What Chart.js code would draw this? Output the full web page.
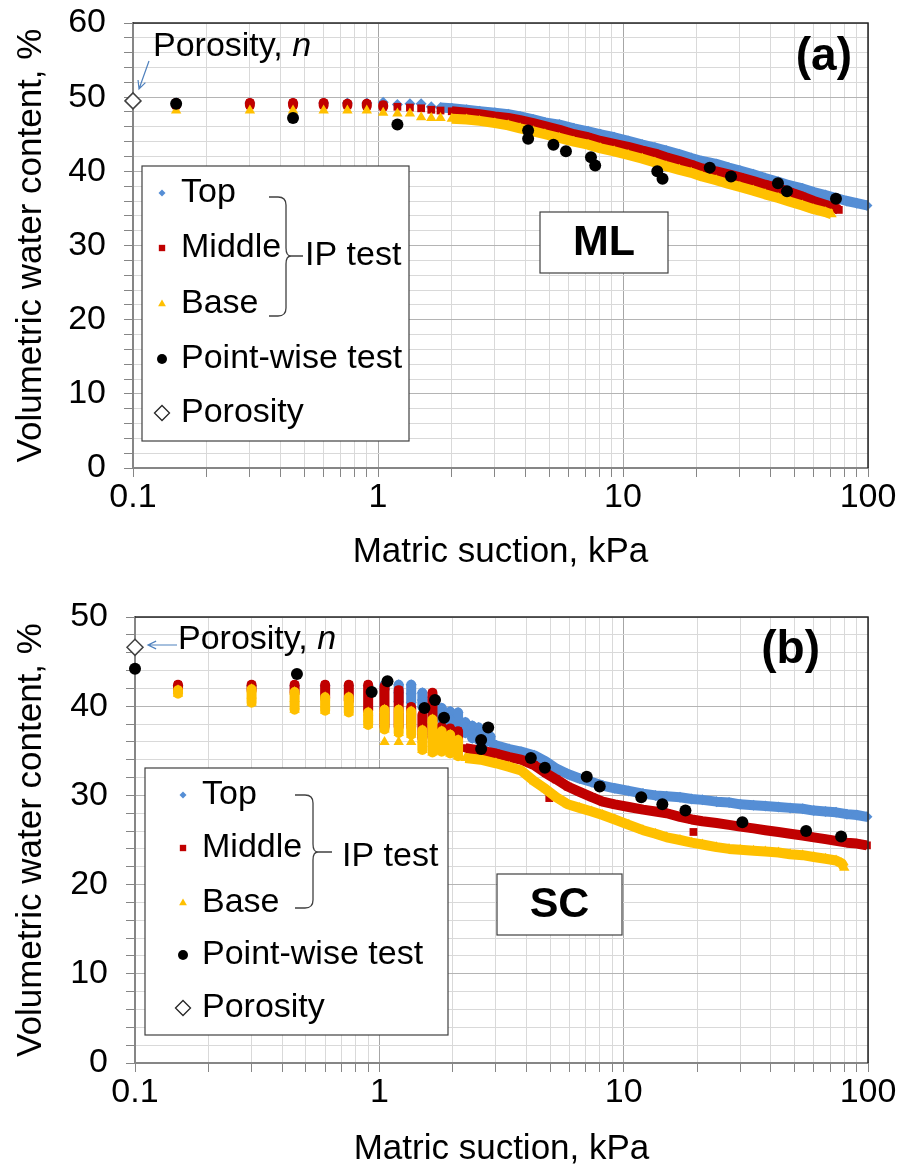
<!DOCTYPE html>
<html>
<head>
<meta charset="utf-8">
<script src="https://cdn.jsdelivr.net/npm/chart.js@4.4.0/dist/chart.umd.min.js"></script>
<style>
  html, body { margin: 0; padding: 0; background: #fff; }
  #wrap { position: relative; width: 900px; height: 1171px; }
  .panel { position: absolute; left: 0; width: 900px; }
</style>
</head>
<body>
<div id="wrap">
  <div class="panel" style="top:0;height:585px"><canvas id="chartA"></canvas></div>
  <div class="panel" style="top:585px;height:586px"><canvas id="chartB"></canvas></div>
</div>
<script>
// ---- axis ticks ----
const xTickValues = [0.1,0.2,0.3,0.4,0.5,0.6,0.7,0.8,0.9,1,2,3,4,5,6,7,8,9,10,20,30,40,50,60,70,80,90,100];
const xTickLabels = [0.1, 1, 10, 100];
const legendLabels = ['Top', 'Middle', 'Base', 'Point-wise test', 'Porosity'];

// ---- (a) ML ----
const mlTopX = [0.15,0.3,0.45,0.6,0.75,0.9,1.05,1.2,1.35,1.5,1.65,
  1.8,2.0,2.3,2.6,3.0,3.4,3.8,4.3,4.8,5.5,6.3,7.2,8.1,9.2,10.5,12,13.5,15,17,19,21,24,27,30,34,38,43,48,54,60,67,74,82,90,99];
const mlTopY = [49.2,49.2,49.2,49.2,49.2,49.2,49.3,49.0,49.1,49.1,48.7,
  48.6,48.5,48.3,48.1,47.9,47.7,47.4,47.0,46.6,46.3,45.8,45.4,45.0,44.6,44.1,43.6,43.2,42.8,42.3,41.8,41.4,41.0,40.5,40.1,39.6,39.1,38.6,38.1,37.7,37.2,36.8,36.4,36.0,35.7,35.4];

const mlMidX = [0.15,0.15,0.3,0.3,0.45,0.45,0.6,0.6,0.75,0.75,0.9,0.9,1.05,1.05,1.2,1.35,1.5,1.65,1.8,
  2.0,2.3,2.6,3.0,3.4,3.8,4.3,4.8,5.5,6.3,7.2,8.1,9.2,10.5,12,13.5,15,17,19,21,24,27,30,34,38,43,48,54,60,67,74,76];
const mlMidY = [49.2,48.9,49.2,48.9,49.2,48.9,49.2,48.9,49.1,48.9,49.1,48.8,48.9,48.7,48.7,48.6,48.5,48.3,48.2,
  48.1,47.9,47.7,47.4,47.2,46.9,46.5,46.1,45.6,45.0,44.6,44.1,43.7,43.3,42.8,42.4,41.9,41.4,40.9,40.4,40.0,39.6,39.2,38.7,38.2,37.7,37.2,36.6,36.0,35.5,35.0,34.8];

const mlBaseX = [0.15,0.3,0.45,0.6,0.75,0.9,1.05,1.2,1.35,1.5,1.65,1.8,
  2.0,2.3,2.6,3.0,3.4,3.8,4.3,4.8,5.5,6.3,7.2,8.1,9.2,10.5,12,13.5,15,17,19,21,24,27,30,34,38,43,48,54,60,67,71];
const mlBaseY = [48.2,48.2,48.2,48.2,48.2,48.2,47.9,47.8,47.8,47.3,47.2,47.2,
  47.1,47.0,46.8,46.5,46.2,45.8,45.4,45.0,44.5,44.0,43.6,43.1,42.7,42.2,41.7,41.2,40.7,40.2,39.8,39.3,38.8,38.3,37.9,37.4,36.9,36.4,35.9,35.4,34.9,34.5,34.2];

const mlPointX = [0.15,0.45,1.2,4.1,4.1,5.2,5.85,7.4,7.7,13.8,14.5,22.6,27.6,42.9,46.7,74];
const mlPointY = [49.1,47.2,46.3,45.5,44.4,43.6,42.7,41.9,40.8,40.0,39.0,40.5,39.3,38.4,37.3,36.3];
const mlPorosityX = [0.1];
const mlPorosityY = [49.5];

// ---- (b) SC ----
const scTopX = [0.15,0.3,0.45,0.6,0.75,0.9,1.05,1.05,1.2,1.2,1.2,1.35,1.35,1.35,1.5,1.5,1.5,1.65,1.65,1.65,
  1.8,1.8,1.8,1.95,1.95,1.95,2.1,2.1,2.1,2.25,2.25,2.25,2.4,2.4,2.4,2.55,2.55,2.55,2.7,2.7,2.7,2.85,2.85,
  3.0,3.4,3.8,4.3,4.8,5.3,5.9,6.6,7.4,8.2,9.2,10.5,12,13.5,15,17,19,21,24,27,30,34,38,43,48,54,60,67,74,82,90,99];
const scTopY = [42.3,42.3,42.3,42.3,42.3,42.3,42.4,41.9,42.4,41.5,40.5,42.4,41.4,40.4,41.5,40.7,39.9,41.0,40.0,39.3,
  39.8,39.1,38.5,39.4,38.5,37.7,39.3,38.4,37.6,38.2,37.6,37.0,37.8,37.0,36.4,37.6,36.8,36.2,37.0,36.4,35.9,36.6,36.0,
  35.6,35.2,34.9,34.5,33.8,33.0,32.4,31.9,31.5,31.1,30.8,30.5,30.2,30.0,29.9,29.8,29.6,29.5,29.3,29.2,29.0,28.9,28.8,28.7,28.6,28.5,28.3,28.2,28.1,27.9,27.8,27.6];

const scMidX = [0.15,0.15,0.3,0.3,0.45,0.45,0.6,0.6,0.6,0.75,0.75,0.75,0.9,0.9,0.9,0.9,
  1.05,1.05,1.05,1.05,1.05,1.2,1.2,1.2,1.2,1.2,1.35,1.35,1.35,1.5,1.5,1.5,1.65,1.65,1.65,1.65,1.65,
  1.8,1.8,1.8,1.95,1.95,1.95,2.1,2.1,2.1,
  2.25,2.6,3.0,3.4,3.8,4.3,4.8,5.3,5.9,6.6,7.4,8.2,9.2,10.5,12,13.5,15,17,19,21,24,27,30,34,38,43,48,54,60,67,74,82,90,99];
const scMidY = [42.4,41.8,42.4,41.8,42.4,41.5,42.4,41.6,40.9,42.4,41.4,40.6,42.4,41.3,40.3,39.5,
  42.2,41.0,39.8,38.6,37.7,41.8,40.6,39.4,38.3,37.7,39.9,38.8,37.7,39.0,37.6,36.4,41.5,40.0,38.5,37.2,36.6,
  37.7,36.4,35.3,37.5,36.2,35.2,37.2,36.0,35.0,
  35.3,35.0,34.7,34.3,34.0,33.4,32.5,31.8,31.0,30.4,29.8,29.3,29.0,28.7,28.4,28.2,28.0,27.6,27.3,27.1,26.9,26.7,26.5,26.3,26.1,25.9,25.7,25.5,25.3,25.1,24.9,24.7,24.6,24.4];
const scMidOutX = [4.96, 19.3];
const scMidOutY = [29.7, 25.9];

const scBaseX = [0.15,0.15,0.3,0.3,0.3,0.45,0.45,0.45,0.45,0.6,0.6,0.6,0.75,0.75,0.75,0.9,0.9,0.9,
  1.05,1.05,1.05,1.2,1.2,1.2,1.35,1.35,1.35,1.5,1.5,1.5,1.65,1.65,1.65,1.65,1.8,1.8,1.8,1.95,1.95,1.95,2.1,2.1,2.1,
  1.05,1.2,1.35,
  2.25,2.6,3.0,3.4,3.8,4.3,4.8,5.3,5.9,6.6,7.4,8.2,9.2,10.5,12,13.5,15,17,19,21,24,27,30,34,38,43,48,54,60,67,74,78,80];
const scBaseY = [41.8,41.4,41.9,41.2,40.4,41.6,40.8,40.0,39.6,41.0,40.2,39.5,41.0,40.2,39.3,39.3,38.6,37.9,
  39.6,38.5,37.4,39.6,38.3,37.0,39.4,38.1,36.8,37.3,36.2,35.1,38.5,37.0,35.8,34.8,37.2,36.0,34.9,36.8,35.6,34.7,36.2,35.2,34.4,
  36.0,36.0,36.0,
  34.2,34.0,33.6,33.2,32.8,31.6,30.7,29.8,29.0,28.6,28.2,27.8,27.3,26.7,26.1,25.7,25.3,25.0,24.7,24.5,24.2,24.0,23.9,23.8,23.7,23.6,23.4,23.3,23.1,22.9,22.7,22.4,21.9];

const scPointX = [0.1,0.46,0.93,1.08,1.53,1.69,1.84,2.61,2.79,2.61,4.17,4.76,7.06,7.98,11.8,14.4,17.9,30.6,55.8,77.6];
const scPointY = [44.2,43.6,41.6,42.8,39.8,40.7,38.7,36.2,37.6,35.2,34.2,33.1,32.1,31.0,29.8,29.0,28.3,27.0,26.0,25.4];
const scPorosityX = [0.1];
const scPorosityY = [46.6];

// ---- styles ----
const FONT = '"Liberation Sans", Arial, Helvetica, sans-serif';
const BLUE = '#558ED5', RED = '#C00000', GOLD = '#FFC000';

function pts(xs, ys) { return xs.map((x, i) => ({ x: x, y: ys[i] })); }

// dense tail drawn as a thick band, sparse steps left as separate markers
function bandSegments(from) {
  return {
    borderColor: c => (c.p0.parsed.x === c.p1.parsed.x || c.p0.parsed.x >= from) ? undefined : 'rgba(0,0,0,0)'
  };
}

function ipSeries(xs, ys, color, style, radius, from, order) {
  const ds = {
    data: pts(xs, ys), showLine: from !== null, borderColor: color, backgroundColor: color,
    borderWidth: 10, borderJoinStyle: 'round', pointStyle: style, pointRadius: radius,
    pointHoverRadius: radius, pointBorderWidth: 0, pointBackgroundColor: color, order: order, clip: false
  };
  if (from !== null) ds.segment = bandSegments(from);
  return ds;
}

function pointSeries(xs, ys) {
  return { data: pts(xs, ys), showLine: false, pointStyle: 'circle', pointRadius: 6, pointHoverRadius: 6,
    pointBackgroundColor: '#000', pointBorderColor: '#000', pointBorderWidth: 0, order: 2, clip: false };
}

function porositySeries(xs, ys) {
  return { data: pts(xs, ys), showLine: false, pointStyle: 'rectRot', pointRadius: 8, pointHoverRadius: 8,
    pointBackgroundColor: '#fff', pointBorderColor: '#404040', pointBorderWidth: 1.5, order: 1, clip: false };
}

function isDecade(v) { const l = Math.log10(v); return Math.abs(l - Math.round(l)) < 1e-9; }

function scalesFor(yMax, yWidth, xHeight, titleBottom) {
  return {
    x: {
      type: 'logarithmic', min: 0.1, max: 100,
      afterBuildTicks: s => { s.ticks = xTickValues.map(v => ({ value: v })); },
      afterFit: s => { s.height = xHeight; },
      ticks: { autoSkip: false, maxRotation: 0, padding: 0, color: '#000', font: { family: FONT, size: 34 },
        callback: v => xTickLabels.includes(v) ? String(v) : '' },
      grid: { color: c => isDecade(c.tick.value) ? '#A6A6A6' : '#D9D9D9', tickLength: 9, tickColor: '#868686' },
      border: { color: '#868686', width: 2 },
      title: { display: true, text: 'Matric suction, kPa', color: '#000', font: { family: FONT, size: 35 },
        padding: { top: 0, bottom: titleBottom } }
    },
    y: {
      min: 0, max: yMax,
      afterFit: s => { s.width = yWidth; },
      ticks: { stepSize: 2, autoSkip: false, padding: 18, color: '#000', font: { family: FONT, size: 34, lineHeight: 0.2 },
        callback: v => v % 10 === 0 ? v : '' },
      grid: { color: c => c.tick.value % 10 === 0 ? '#B4B4B4' : '#D9D9D9', tickLength: 9, tickColor: '#868686' },
      border: { color: '#868686', width: 2 },
      title: { display: true, text: 'Volumetric water content, %', color: '#000', font: { family: FONT, size: 35 },
        padding: { top: 10 } }
    }
  };
}

function arrow(ctx, x0, y0, x1, y1) {
  const ang = Math.atan2(y1 - y0, x1 - x0), len = 9;
  ctx.beginPath();
  ctx.moveTo(x0, y0); ctx.lineTo(x1, y1);
  ctx.moveTo(x1 - len * Math.cos(ang - 0.45), y1 - len * Math.sin(ang - 0.45));
  ctx.lineTo(x1, y1);
  ctx.lineTo(x1 - len * Math.cos(ang + 0.45), y1 - len * Math.sin(ang + 0.45));
  ctx.stroke();
}

const decor = {
  id: 'decor',
  afterDraw(chart, args, o) {
    const ctx = chart.ctx, a = chart.chartArea;
    ctx.save();
    ctx.strokeStyle = '#262626'; ctx.lineWidth = 1.5;
    ctx.beginPath(); ctx.moveTo(a.left, a.top); ctx.lineTo(a.right, a.top); ctx.lineTo(a.right, a.bottom); ctx.stroke();

    // porosity note
    const p = o.porosity;
    ctx.font = '34px ' + FONT; ctx.fillStyle = '#000'; ctx.textBaseline = 'middle'; ctx.textAlign = 'left';
    ctx.fillText('Porosity, ', p.x, p.y);
    const w = ctx.measureText('Porosity, ').width;
    ctx.font = 'italic 34px ' + FONT;
    ctx.fillText('n', p.x + w, p.y);
    ctx.strokeStyle = '#4F81BD'; ctx.lineWidth = 1.2;
    arrow(ctx, p.arrow[0], p.arrow[1], p.arrow[2], p.arrow[3]);

    // panel tag
    ctx.font = 'bold 46px ' + FONT; ctx.textAlign = 'right';
    ctx.fillText(o.tag.text, o.tag.right, o.tag.y);

    // soil box
    const s = o.soil.box;
    ctx.fillStyle = '#fff'; ctx.fillRect(s[0], s[1], s[2] - s[0], s[3] - s[1]);
    ctx.strokeStyle = '#404040'; ctx.lineWidth = 1.2; ctx.strokeRect(s[0], s[1], s[2] - s[0], s[3] - s[1]);
    ctx.fillStyle = '#000'; ctx.font = 'bold 43px ' + FONT; ctx.textAlign = 'center';
    ctx.fillText(o.soil.text, (s[0] + s[2]) / 2, (s[1] + s[3]) / 2 + 1);

    // legend
    const L = o.legend, b = L.box;
    ctx.fillStyle = '#fff'; ctx.fillRect(b[0], b[1], b[2] - b[0], b[3] - b[1]);
    ctx.strokeStyle = '#404040'; ctx.lineWidth = 1.2; ctx.strokeRect(b[0], b[1], b[2] - b[0], b[3] - b[1]);
    const marks = [
      { style: 'rectRot', r: 3.5, fill: BLUE, stroke: BLUE, bw: 0 },
      { style: 'rect', r: 4.5, fill: RED, stroke: RED, bw: 0 },
      { style: 'triangle', r: 4.5, fill: GOLD, stroke: GOLD, bw: 0 },
      { style: 'circle', r: 5, fill: '#000', stroke: '#000', bw: 0 },
      { style: 'rectRot', r: 7.5, fill: '#fff', stroke: '#262626', bw: 1.3 }
    ];
    ctx.font = '34px ' + FONT; ctx.textAlign = 'left'; ctx.textBaseline = 'middle';
    legendLabels.forEach((lab, i) => {
      const m = marks[i];
      ctx.fillStyle = m.fill; ctx.strokeStyle = m.stroke; ctx.lineWidth = m.bw;
      Chart.helpers.drawPoint(ctx, { pointStyle: m.style, radius: m.r, borderWidth: m.bw, rotation: 0 }, L.markerX, L.rows[i]);
      ctx.fillStyle = '#000';
      ctx.fillText(lab, L.textX, L.rows[i]);
    });
    // brace
    const br = L.brace, r = 8;
    ctx.strokeStyle = '#404040'; ctx.lineWidth = 1.3;
    ctx.beginPath();
    ctx.moveTo(br.x0, br.top);
    ctx.lineTo(br.x1 - r, br.top);
    ctx.quadraticCurveTo(br.x1, br.top, br.x1, br.top + r);
    ctx.lineTo(br.x1, br.mid - r);
    ctx.quadraticCurveTo(br.x1, br.mid, br.x1 + 5, br.mid);
    ctx.quadraticCurveTo(br.x1, br.mid, br.x1, br.mid + r);
    ctx.lineTo(br.x1, br.bottom - r);
    ctx.quadraticCurveTo(br.x1, br.bottom, br.x1 - r, br.bottom);
    ctx.lineTo(br.x0, br.bottom);
    ctx.moveTo(br.x1 + 5, br.mid); ctx.lineTo(br.tipTo, br.mid);
    ctx.stroke();
    ctx.fillStyle = '#000';
    ctx.fillText('IP test', L.ip[0], L.ip[1]);
    ctx.restore();
  }
};

function makeChart(id, datasets, yMax, yWidth, xHeight, titleBottom, padTop, decorOpts) {
  return new Chart(document.getElementById(id), {
    type: 'scatter',
    data: { datasets: datasets },
    options: {
      responsive: true, maintainAspectRatio: false, animation: false,
      layout: { padding: { top: padTop, right: 32, left: 0, bottom: 0 } },
      scales: scalesFor(yMax, yWidth, xHeight, titleBottom),
      plugins: { legend: { display: false }, tooltip: { enabled: false }, decor: decorOpts }
    },
    plugins: [decor]
  });
}

makeChart('chartA', [
  ipSeries(mlTopX, mlTopY, BLUE, 'rectRot', 5.5, 1.8, 5),
  ipSeries(mlMidX, mlMidY, RED, 'rect', 5.5, 2.0, 4),
  ipSeries(mlBaseX, mlBaseY, GOLD, 'triangle', 6, 2.0, 3),
  pointSeries(mlPointX, mlPointY),
  porositySeries(mlPorosityX, mlPorosityY)
], 60, 133, 117, 12, 23, {
  porosity: { x: 153, y: 47, arrow: [149, 61, 139, 89] },
  tag: { text: '(a)', right: 852, y: 57 },
  soil: { text: 'ML', box: [540, 212, 668, 273] },
  legend: { box: [142, 166, 409, 441], markerX: 162, textX: 181, rows: [193, 248, 304, 359, 413],
    brace: { x0: 269, x1: 286, top: 197, bottom: 316, mid: 256, tipTo: 303 }, ip: [305, 256] }
});

makeChart('chartB', [
  ipSeries(scTopX, scTopY, BLUE, 'rectRot', 5.5, 2.85, 5),
  ipSeries(scMidX, scMidY, RED, 'rect', 5.5, 2.25, 4),
  ipSeries(scMidOutX, scMidOutY, RED, 'rect', 5.5, null, 4),
  ipSeries(scBaseX, scBaseY, GOLD, 'triangle', 6, 2.25, 3),
  pointSeries(scPointX, scPointY),
  porositySeries(scPorosityX, scPorosityY)
], 50, 135, 108, 1, 32, {
  porosity: { x: 178, y: 55, arrow: [177, 60, 148, 60] },
  tag: { text: '(b)', right: 820, y: 65 },
  soil: { text: 'SC', box: [497, 289, 622, 350] },
  legend: { box: [145, 183, 448, 450], markerX: 183, textX: 202, rows: [210, 263, 318, 370, 423],
    brace: { x0: 295, x1: 313, top: 210, bottom: 323, mid: 267, tipTo: 332 }, ip: [342, 272] }
});
</script>
</body>
</html>
